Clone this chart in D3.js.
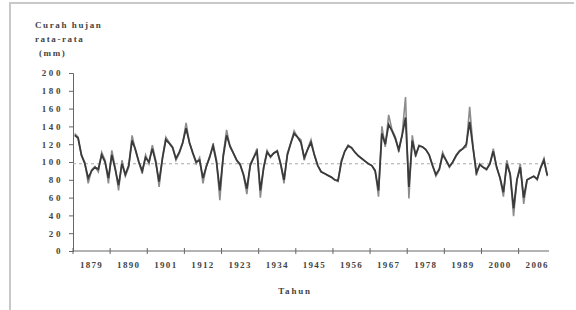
<!DOCTYPE html>
<html>
<head>
<meta charset="utf-8">
<script src="https://cdn.jsdelivr.net/npm/d3@7"></script>
<style>
  body { margin: 0; background: #fff; }
  text { font-family: "Liberation Serif", "DejaVu Serif", serif; font-weight: bold; fill: #444; }
</style>
</head>
<body>
<script>
// annual rainfall (mm), one value per category
var annual = [132, 128, 107, 100, 76, 91, 95, 89, 111, 102,
              76, 113, 94, 68, 102, 84, 94, 130, 113, 100,
              87, 108, 98, 119, 102, 72, 105, 128, 122, 117,
              102, 110, 121, 144, 121, 110, 98, 105, 76, 95,
              105, 121, 102, 57, 108, 136, 117, 110, 102, 98,
              85, 64, 98, 105, 115, 60, 95, 113, 105, 110,
              113, 98, 76, 110, 121, 135, 128, 125, 102, 115,
              125, 108, 96, 89, 87, 85, 83, 80, 78, 102,
              112, 119, 116, 111, 107, 104, 101, 98, 96, 91,
              61, 140, 117, 153, 136, 128, 111, 131, 173, 59,
              130, 106, 119, 117, 114, 108, 96, 84, 91, 111,
              102, 94, 100, 108, 113, 115, 117, 162, 117, 85,
              98, 94, 91, 98, 115, 94, 82, 61, 102, 87,
              39, 80, 98, 53, 80, 82, 84, 80, 94, 104, 84];

// second (dark) series, close to the annual values
var smooth = [130, 127, 108, 98, 82, 90, 94, 92, 108, 100,
              82, 108, 92, 74, 98, 86, 96, 124, 114, 100,
              90, 105, 100, 115, 100, 78, 104, 125, 121, 116,
              104, 111, 122, 138, 122, 110, 100, 102, 82, 95,
              106, 118, 100, 68, 106, 130, 118, 110, 102, 97,
              86, 70, 96, 105, 112, 68, 94, 111, 106, 110,
              112, 98, 80, 108, 121, 132, 128, 122, 105, 114,
              122, 108, 96, 89, 87, 85, 83, 80, 79, 100,
              112, 118, 116, 111, 107, 104, 101, 98, 96, 90,
              68, 132, 120, 142, 135, 126, 114, 130, 150, 72,
              124, 108, 118, 117, 114, 108, 96, 86, 92, 108,
              102, 95, 100, 107, 112, 115, 120, 145, 116, 88,
              97, 94, 92, 98, 112, 94, 82, 66, 98, 86,
              48, 80, 94, 60, 80, 82, 84, 81, 93, 102, 85];

var meanValue = 98;

var tickLabels = ["1879", "1890", "1901", "1912", "1923", "1934", "1945",
                  "1956", "1967", "1978", "1989", "2000", "2006"];
var labelEvery = 11;
var yTicks = [0, 20, 40, 60, 80, 100, 120, 140, 160, 180, 200];

var width = 576, height = 310;
var svg = d3.select("body").append("svg")
    .attr("width", width)
    .attr("height", height);

// outer frame (top and left edge)
svg.append("path")
    .attr("d", "M10,310 L10,3 L574,3")
    .attr("fill", "none")
    .attr("stroke", "#c8c8c8")
    .attr("stroke-width", 2);

var x = d3.scaleLinear().domain([0, annual.length]).range([73, 549]);
var y = d3.scaleLinear().domain([0, 200]).range([251, 73]);

// y axis
var yAxis = svg.append("g").attr("transform", "translate(73,0)")
    .call(d3.axisLeft(y).tickValues(yTicks).tickSize(4).tickPadding(6));
yAxis.select(".domain").attr("stroke", "#666");
yAxis.selectAll(".tick line").attr("stroke", "#666");
yAxis.selectAll(".tick text")
    .attr("font-size", 9)
    .attr("letter-spacing", 2.6)
    .attr("fill", "#444");

// x axis
var xTickVals = d3.range(0, annual.length, labelEvery);
svg.append("line")
    .attr("x1", x(0)).attr("x2", x(annual.length))
    .attr("y1", y(0)).attr("y2", y(0))
    .attr("stroke", "#666");
svg.selectAll(".xtick")
    .data(xTickVals)
    .enter().append("line")
    .attr("class", "xtick")
    .attr("x1", function(d) { return x(d); })
    .attr("x2", function(d) { return x(d); })
    .attr("y1", y(0) - 3)
    .attr("y2", y(0) + 3)
    .attr("stroke", "#666");
svg.selectAll(".xlab")
    .data(tickLabels)
    .enter().append("text")
    .attr("class", "xlab")
    .attr("x", function(d, i) { return x(i * labelEvery + labelEvery / 2); })
    .attr("y", 268)
    .attr("text-anchor", "middle")
    .attr("font-size", 9)
    .attr("letter-spacing", 1.3)
    .text(function(d) { return d; });

// mean line
svg.append("line")
    .attr("x1", x(0)).attr("x2", x(annual.length))
    .attr("y1", y(meanValue)).attr("y2", y(meanValue))
    .attr("stroke", "#aaa")
    .attr("stroke-dasharray", "3,3");

var line = d3.line()
    .x(function(d, i) { return x(i + 0.5); })
    .y(function(d) { return y(d); });

svg.append("path")
    .datum(annual)
    .attr("d", line)
    .attr("fill", "none")
    .attr("stroke", "#8c8c8c")
    .attr("stroke-width", 1.6);

svg.append("path")
    .datum(smooth)
    .attr("d", line)
    .attr("fill", "none")
    .attr("stroke", "#3a3a3a")
    .attr("stroke-width", 1.8);

// titles
var yTitle = ["Curah hujan", "rata-rata", "(mm)"];
svg.selectAll(".ytitle")
    .data(yTitle)
    .enter().append("text")
    .attr("class", "ytitle")
    .attr("x", function(d, i) { return i == 2 ? 39 : 35; })
    .attr("y", function(d, i) { return 28 + i * 14; })
    .attr("font-size", 9)
    .attr("letter-spacing", 1.6)
    .text(function(d) { return d; });

svg.append("text")
    .attr("x", 295)
    .attr("y", 294)
    .attr("text-anchor", "middle")
    .attr("font-size", 9)
    .attr("letter-spacing", 1.8)
    .text("Tahun");
</script>
</body>
</html>
